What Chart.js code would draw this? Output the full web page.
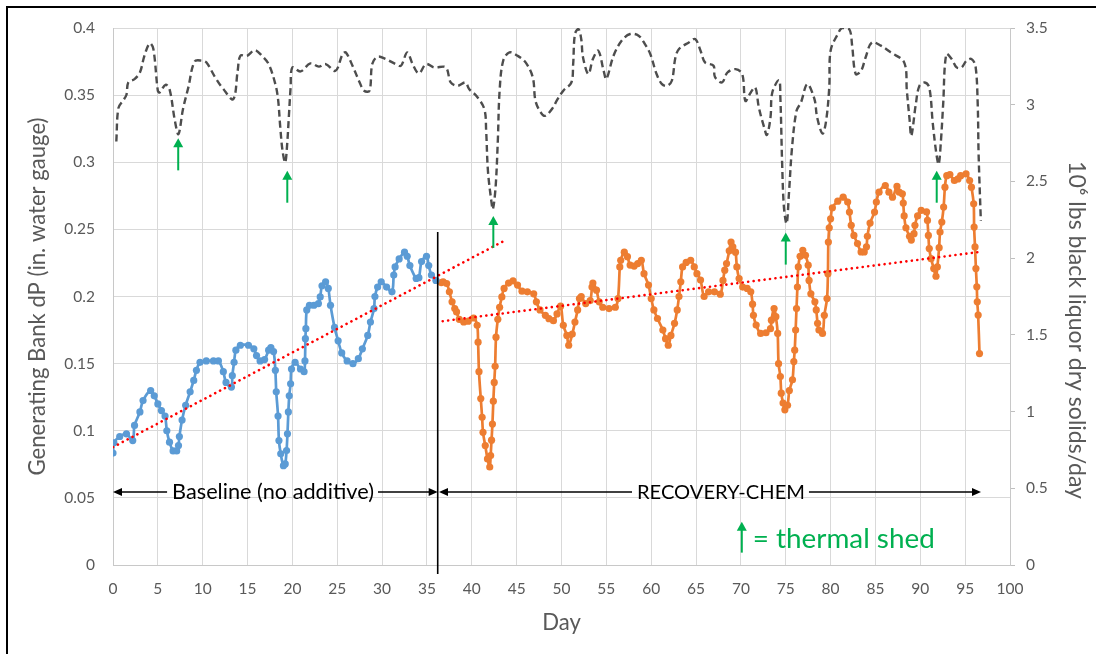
<!DOCTYPE html>
<html><head><meta charset="utf-8">
<script src="https://cdn.jsdelivr.net/npm/chart.js@4.4.1/dist/chart.umd.min.js"></script>
<style>html,body{margin:0;padding:0;background:#fff;overflow:hidden}</style>
</head><body>
<canvas id="c" width="1096" height="654"></canvas>
<script>
// ---------- DATA ----------
// Generating bank dP, baseline period  [day, in. water gauge]
const baselineDP = [[0,0.0834],[0.1,0.091],[0.75,0.0957],[1.5,0.0977],[2.2,0.0927],[2.4,0.104],[3.0,0.114],[3.35,0.1225],[4.2,0.130],[4.6,0.126],[5.0,0.120],[5.4,0.115],[5.8,0.111],[6.0,0.100],[6.3,0.0915],[6.7,0.085],[7.1,0.085],[7.3,0.089],[7.4,0.0957],[7.7,0.108],[8.1,0.119],[8.6,0.129],[9.0,0.1375],[9.3,0.145],[9.7,0.151],[10.4,0.152],[11.2,0.152],[11.75,0.152],[12.3,0.144],[12.6,0.136],[13.2,0.1325],[13.3,0.141],[13.5,0.151],[13.7,0.160],[14.2,0.1637],[15.1,0.1637],[15.7,0.161],[16.0,0.156],[16.4,0.152],[16.9,0.153],[17.35,0.160],[17.6,0.162],[17.9,0.159],[18.1,0.145],[18.2,0.129],[18.4,0.111],[18.5,0.0927],[18.7,0.0828],[19.0,0.074],[19.2,0.0753],[19.35,0.0853],[19.45,0.0977],[19.55,0.114],[19.65,0.126],[19.8,0.135],[19.9,0.146],[20.3,0.151],[20.9,0.146],[21.3,0.144],[21.4,0.152],[21.45,0.1686],[21.5,0.176],[21.6,0.190],[21.9,0.1935],[22.4,0.1935],[22.9,0.1947],[23.1,0.1997],[23.3,0.208],[23.7,0.211],[24.0,0.206],[24.25,0.1935],[24.7,0.177],[25.1,0.167],[25.5,0.158],[26.1,0.152],[26.75,0.150],[27.35,0.1537],[27.8,0.161],[28.4,0.171],[28.7,0.181],[29.1,0.191],[29.2,0.200],[29.5,0.207],[29.9,0.211],[30.5,0.207],[31.1,0.2035],[31.3,0.216],[31.45,0.222],[31.9,0.228],[32.5,0.233],[32.8,0.230],[33.1,0.223],[33.8,0.2134],[34.1,0.214],[34.4,0.226],[34.95,0.230],[35.2,0.223],[35.5,0.216],[36.0,0.212]];

// Generating bank dP, RECOVERY-CHEM period
const treatedDP = [[36.6,0.2104],[36.8,0.211],[37.2,0.2097],[37.5,0.2035],[37.8,0.196],[38.1,0.191],[38.3,0.1885],[38.6,0.183],[39.1,0.181],[39.6,0.1816],[40.2,0.184],[40.6,0.1785],[40.7,0.166],[40.8,0.144],[41.0,0.124],[41.15,0.110],[41.25,0.0988],[41.5,0.089],[41.75,0.079],[42.0,0.073],[42.1,0.0815],[42.2,0.093],[42.3,0.105],[42.4,0.122],[42.5,0.136],[42.6,0.148],[42.7,0.1697],[42.9,0.183],[43.1,0.192],[43.35,0.1997],[43.6,0.206],[44.1,0.210],[44.6,0.2117],[45.1,0.2085],[45.6,0.204],[46.2,0.2035],[46.9,0.202],[47.2,0.196],[47.6,0.190],[48.2,0.186],[48.6,0.1835],[49.1,0.182],[49.5,0.187],[49.9,0.1928],[50.2,0.1785],[50.6,0.171],[50.8,0.1637],[51.2,0.172],[51.5,0.181],[51.8,0.190],[52.0,0.1985],[52.2,0.200],[52.7,0.1947],[53.2,0.197],[53.4,0.207],[53.5,0.210],[53.9,0.2047],[54.2,0.196],[54.6,0.192],[55.3,0.191],[56.0,0.192],[56.3,0.1985],[56.5,0.222],[56.6,0.227],[57.0,0.233],[57.35,0.2297],[57.65,0.2234],[58.1,0.2227],[58.5,0.2245],[58.9,0.227],[59.2,0.217],[59.7,0.2085],[60.0,0.1985],[60.3,0.190],[60.7,0.1836],[61.3,0.175],[61.6,0.1686],[61.9,0.1637],[62.2,0.171],[62.6,0.180],[62.9,0.190],[63.1,0.200],[63.3,0.211],[63.5,0.222],[63.9,0.2254],[64.4,0.227],[64.8,0.222],[65.1,0.217],[65.5,0.2122],[65.9,0.200],[66.4,0.2035],[67.05,0.2035],[67.7,0.2017],[68.0,0.212],[68.2,0.2196],[68.4,0.2245],[68.7,0.234],[68.9,0.2406],[69.1,0.237],[69.4,0.233],[69.55,0.222],[69.8,0.2134],[70.2,0.207],[70.7,0.206],[71.1,0.2035],[71.3,0.1943],[71.4,0.186],[71.7,0.1787],[72.2,0.1725],[72.8,0.173],[73.3,0.176],[73.4,0.1824],[73.7,0.191],[73.9,0.185],[74.1,0.1725],[74.2,0.150],[74.4,0.1404],[74.5,0.128],[74.7,0.1206],[74.9,0.1156],[75.2,0.119],[75.4,0.130],[75.75,0.138],[75.9,0.1515],[76.0,0.160],[76.1,0.175],[76.2,0.191],[76.3,0.207],[76.4,0.222],[76.6,0.230],[76.9,0.2344],[77.2,0.2307],[77.5,0.2233],[77.6,0.212],[77.8,0.202],[78.25,0.196],[78.4,0.190],[78.55,0.180],[78.7,0.175],[79.1,0.1725],[79.3,0.186],[79.6,0.1985],[79.7,0.217],[79.75,0.2406],[79.85,0.2512],[80.0,0.2579],[80.2,0.2661],[80.8,0.271],[81.4,0.274],[81.9,0.2703],[82.1,0.2629],[82.3,0.253],[82.6,0.2455],[83.0,0.2394],[83.4,0.2332],[83.75,0.2332],[84.0,0.237],[84.1,0.2448],[84.4,0.2547],[84.9,0.2629],[85.1,0.2703],[85.4,0.2777],[86.1,0.2827],[86.5,0.2777],[86.9,0.274],[87.4,0.282],[87.65,0.2777],[88.0,0.2765],[88.1,0.2696],[88.2,0.260],[88.4,0.2512],[88.8,0.2448],[89.0,0.242],[89.3,0.2468],[89.4,0.253],[89.7,0.260],[90.1,0.2641],[90.7,0.263],[90.8,0.2567],[90.9,0.2455],[91.0,0.2357],[91.2,0.2282],[91.5,0.2208],[91.75,0.2151],[91.9,0.222],[92.1,0.2364],[92.2,0.248],[92.4,0.2555],[92.6,0.2666],[92.75,0.2814],[92.95,0.290],[93.3,0.2908],[93.8,0.2864],[94.2,0.2876],[94.5,0.290],[95.1,0.2913],[95.5,0.2864],[95.7,0.2814],[95.95,0.269],[96.0,0.2517],[96.1,0.2369],[96.2,0.2208],[96.3,0.2072],[96.35,0.196],[96.45,0.1862],[96.6,0.1575]];

// Black liquor dry solids firing, 10^6 lbs/day (right axis)
const liquorSolids = [[0.37,2.76],[0.6,2.978],[1.1,3.025],[1.5,3.065],[1.7,3.145],[2.4,3.167],[3.0,3.21],[3.5,3.319],[4.1,3.40],[4.5,3.363],[5.0,3.091],[5.2,3.08],[5.85,3.13],[6.3,3.102],[6.9,2.895],[7.3,2.808],[7.8,2.971],[8.4,3.113],[9.1,3.282],[9.9,3.287],[10.4,3.276],[11.4,3.178],[12.3,3.102],[13.4,3.036],[13.9,3.221],[14.2,3.319],[14.95,3.319],[15.8,3.356],[16.6,3.319],[17.35,3.265],[18.1,3.134],[18.4,3.036],[18.65,2.851],[18.9,2.70],[19.2,2.623],[19.4,2.73],[19.6,2.917],[19.8,3.113],[20.0,3.243],[20.9,3.217],[22.0,3.269],[22.95,3.248],[23.7,3.265],[24.8,3.221],[25.6,3.33],[25.95,3.341],[26.7,3.254],[27.5,3.145],[28.0,3.091],[28.6,3.091],[28.9,3.265],[29.5,3.313],[30.4,3.298],[31.5,3.265],[32.1,3.254],[32.8,3.341],[33.4,3.265],[34.1,3.204],[34.9,3.265],[35.8,3.243],[37.1,3.243],[37.65,3.145],[38.4,3.123],[39.3,3.145],[39.7,3.102],[40.5,3.058],[41.4,2.971],[41.6,2.83],[41.8,2.568],[42.2,2.362],[42.35,2.318],[42.65,2.46],[42.9,2.764],[43.1,3.091],[43.5,3.287],[44.2,3.341],[45.1,3.319],[46.0,3.276],[46.8,3.178],[47.1,3.025],[47.7,2.949],[48.2,2.928],[49.1,2.985],[49.45,3.025],[50.2,3.091],[51.1,3.145],[51.3,3.265],[51.5,3.461],[51.9,3.493],[52.2,3.428],[52.4,3.308],[53.0,3.20],[53.5,3.298],[54.1,3.352],[54.7,3.221],[55.0,3.167],[55.8,3.319],[56.7,3.417],[57.65,3.461],[58.6,3.45],[59.3,3.395],[59.9,3.33],[60.6,3.20],[61.2,3.134],[61.75,3.123],[62.3,3.156],[62.7,3.308],[63.1,3.363],[64.2,3.406],[64.9,3.428],[65.5,3.352],[66.0,3.276],[66.95,3.254],[67.1,3.182],[67.9,3.145],[68.5,3.21],[69.4,3.232],[70.15,3.20],[70.5,3.025],[71.1,3.08],[71.6,3.113],[72.0,2.982],[72.6,2.851],[72.9,2.803],[73.3,2.917],[73.5,3.08],[74.25,3.16],[74.4,3.047],[74.6,2.612],[74.8,2.329],[75.1,2.225],[75.35,2.416],[75.7,2.72],[76.2,2.96],[76.7,3.015],[77.4,3.134],[78.2,3.036],[78.5,2.917],[79.1,2.812],[79.5,2.895],[79.85,3.113],[80.0,3.352],[80.8,3.461],[81.3,3.5],[82.1,3.49],[82.4,3.385],[82.8,3.20],[83.4,3.221],[83.9,3.308],[84.6,3.406],[85.6,3.385],[86.7,3.341],[88.2,3.276],[88.5,3.091],[88.8,2.906],[89.0,2.797],[89.5,3.004],[89.9,3.123],[90.5,3.145],[91.0,3.113],[91.4,2.873],[91.8,2.677],[92.05,2.612],[92.3,2.764],[92.55,3.004],[92.9,3.33],[93.5,3.298],[94.05,3.243],[94.6,3.243],[95.15,3.287],[95.7,3.298],[96.15,3.254],[96.4,3.004],[96.5,2.677],[96.75,2.242]];

// Linear trend lines (end points)
const baselineTrend = [[0,0.0878],[43.9,0.2425]];
const treatedTrend  = [[36.75,0.1816],[96.6,0.2332]];

// Thermal shed events: day and dP value at the arrow tip
const shedDays = [7.27, 19.43, 42.4, 75.0, 91.83];
const shedTips = [0.3178, 0.2937, 0.26, 0.2476, 0.2937];

// Periods
const periodLabels = ['Baseline (no additive)', 'RECOVERY-CHEM'];
const periodStart  = [0, 36.34];
const periodEnd    = [36.2, 96.77];
const periodLabelDay = [17.84, 67.78];
const additiveStartDay = 36.2;

// Text
const xTitle = 'Day';
const yTitle = 'Generating Bank dP (in. water gauge)';
const y2Title = '10\u2076 lbs black liquor dry solids/day';
const legendText = '= thermal shed';

// ---------- STYLE ----------
const FAMILY = 'Lato, "Open Sans", sans-serif';
const GREY_TXT = '#595959';
const GREEN = '#00B050';
const mctx = document.createElement('canvas').getContext('2d');
function fitSize(text, target){ mctx.font = '100px ' + FAMILY; return 100 * target / mctx.measureText(text).width; }
const titleSize = fitSize(yTitle, 358);
const y2Size = fitSize(y2Title, 338);
const baseSize = fitSize(periodLabels[0], 202);
const recSize  = fitSize(periodLabels[1], 168);
const legSize  = fitSize(legendText, 182);

Chart.defaults.font.family = FAMILY;
Chart.defaults.color = GREY_TXT;

const toXY = a => a.map(p => ({x:p[0], y:p[1]}));
const fmt = v => String(+Number(v).toFixed(2));

function arrowUp(ctx, x, yTip, len, color){
  const hw = 5, hh = 9;
  ctx.save(); ctx.strokeStyle = color; ctx.fillStyle = color; ctx.lineWidth = 2;
  ctx.beginPath(); ctx.moveTo(x, yTip + len); ctx.lineTo(x, yTip + hh - 1); ctx.stroke();
  ctx.beginPath(); ctx.moveTo(x, yTip); ctx.lineTo(x - hw, yTip + hh); ctx.lineTo(x + hw, yTip + hh); ctx.closePath(); ctx.fill();
  ctx.restore();
}
function arrowH(ctx, xFrom, xTip, y){
  const dir = Math.sign(xTip - xFrom), hl = 9, hw = 4;
  ctx.save(); ctx.strokeStyle = '#000'; ctx.fillStyle = '#000'; ctx.lineWidth = 1.6;
  ctx.beginPath(); ctx.moveTo(xFrom, y); ctx.lineTo(xTip - dir*(hl-1), y); ctx.stroke();
  ctx.beginPath(); ctx.moveTo(xTip, y); ctx.lineTo(xTip - dir*hl, y - hw); ctx.lineTo(xTip - dir*hl, y + hw); ctx.closePath(); ctx.fill();
  ctx.restore();
}

const annotations = {
  id: 'annotations',
  afterDatasetsDraw(chart){
    const ctx = chart.ctx, xs = chart.scales.x, ys = chart.scales.y, area = chart.chartArea;
    const xd = xs.getPixelForValue(additiveStartDay);
    ctx.save(); ctx.strokeStyle = '#000'; ctx.lineWidth = 1.6;
    ctx.beginPath(); ctx.moveTo(xd, ys.getPixelForValue(0.248)); ctx.lineTo(xd, area.bottom + 9); ctx.stroke(); ctx.restore();
    const yA = ys.getPixelForValue(0.0544);
    const sizes = [baseSize, recSize];
    periodLabels.forEach((lab, i) => {
      ctx.save();
      ctx.font = sizes[i] + 'px ' + FAMILY; ctx.fillStyle = '#000';
      ctx.textAlign = 'center'; ctx.textBaseline = 'alphabetic';
      const cx = xs.getPixelForValue(periodLabelDay[i]);
      const w = ctx.measureText(lab).width;
      ctx.fillText(lab, cx, yA + 7);
      ctx.restore();
      arrowH(ctx, cx - w/2 - 5, xs.getPixelForValue(periodStart[i]), yA);
      arrowH(ctx, cx + w/2 + 4, xs.getPixelForValue(periodEnd[i]), yA);
    });
    shedDays.forEach((d, i) => arrowUp(ctx, xs.getPixelForValue(d), ys.getPixelForValue(shedTips[i]), 32, GREEN));
    const lx = xs.getPixelForValue(70.1), ly = ys.getPixelForValue(0.0323);
    arrowUp(ctx, lx, ly, 31, GREEN);
    ctx.save(); ctx.font = legSize + 'px ' + FAMILY; ctx.fillStyle = GREEN;
    ctx.textAlign = 'left'; ctx.textBaseline = 'alphabetic';
    ctx.fillText(legendText, lx + 11, ly + 26); ctx.restore();
  },
  afterDraw(chart){
    const ctx = chart.ctx;
    ctx.save(); ctx.translate(1076, 330); ctx.rotate(Math.PI/2);
    ctx.font = y2Size + 'px ' + FAMILY; ctx.fillStyle = GREY_TXT;
    ctx.textAlign = 'center'; ctx.textBaseline = 'middle';
    ctx.fillText(y2Title, 0, 0); ctx.restore();
    ctx.save(); ctx.strokeStyle = '#000'; ctx.lineWidth = 2;
    ctx.strokeRect(7, 7, 1300, 1300); ctx.restore();
  }
};

new Chart(document.getElementById('c'), {
  type: 'line',
  data: { datasets: [
    { label: 'Baseline trend', data: toXY(baselineTrend), yAxisID: 'y', borderColor: '#FF0000', borderWidth: 2.6, borderDash: [0.1, 5.4], borderCapStyle: 'round', pointRadius: 0, tension: 0, order: 0 },
    { label: 'RECOVERY-CHEM trend', data: toXY(treatedTrend), yAxisID: 'y', borderColor: '#FF0000', borderWidth: 2.6, borderDash: [0.1, 5.4], borderCapStyle: 'round', pointRadius: 0, tension: 0, order: 0 },
    { label: 'Baseline dP', data: toXY(baselineDP), yAxisID: 'y', borderColor: '#5B9BD5', backgroundColor: '#5B9BD5', borderWidth: 2.7, pointRadius: 3.6, pointBorderWidth: 0, pointBackgroundColor: '#5B9BD5', tension: 0.35, order: 1 },
    { label: 'RECOVERY-CHEM dP', data: toXY(treatedDP), yAxisID: 'y', borderColor: '#ED7D31', backgroundColor: '#ED7D31', borderWidth: 2.7, pointRadius: 3.6, pointBorderWidth: 0, pointBackgroundColor: '#ED7D31', tension: 0.35, order: 1 },
    { label: 'Black liquor solids', data: toXY(liquorSolids), yAxisID: 'y2', borderColor: '#4D4D4D', borderWidth: 2.4, borderDash: [7, 4], pointRadius: 0, tension: 0.35, order: 2 }
  ]},
  options: {
    responsive: false, animation: false, events: [],
    layout: { padding: { top: 28, left: 0, right: 0, bottom: 0 } },
    plugins: { legend: { display: false }, tooltip: { enabled: false } },
    scales: {
      x: { type: 'linear', min: 0, max: 100,
        ticks: { stepSize: 5, padding: 15, font: { size: 15.5 }, color: GREY_TXT, maxRotation: 0 },
        grid: { color: '#D9D9D9', lineWidth: 1, drawTicks: false },
        border: { color: '#C8C8C8', width: 1 },
        title: { display: true, text: xTitle, font: { size: titleSize }, color: GREY_TXT, padding: { top: 0, bottom: 31 - 0.6*titleSize } },
        afterFit(s){ s.height = 89; } },
      y: { type: 'linear', position: 'left', min: 0, max: 0.4,
        ticks: { stepSize: 0.05, padding: 18, font: { size: 15.5 }, color: GREY_TXT, callback: fmt },
        grid: { color: '#D9D9D9', lineWidth: 1, drawTicks: false },
        border: { color: '#C8C8C8', width: 1 },
        title: { display: true, text: yTitle, font: { size: titleSize }, color: GREY_TXT, padding: { top: 38 - 0.6*titleSize, bottom: 0 } },
        afterFit(s){ s.width = 113; } },
      y2: { type: 'linear', position: 'right', min: 0, max: 3.5,
        ticks: { stepSize: 0.5, padding: 11, font: { size: 15.5 }, color: GREY_TXT, callback: fmt },
        grid: { drawOnChartArea: false, drawTicks: true, tickLength: 5, color: '#BFBFBF' },
        border: { color: '#C8C8C8', width: 1 },
        afterFit(s){ s.width = 86; } }
    }
  },
  plugins: [annotations]
});
</script>
</body></html>
